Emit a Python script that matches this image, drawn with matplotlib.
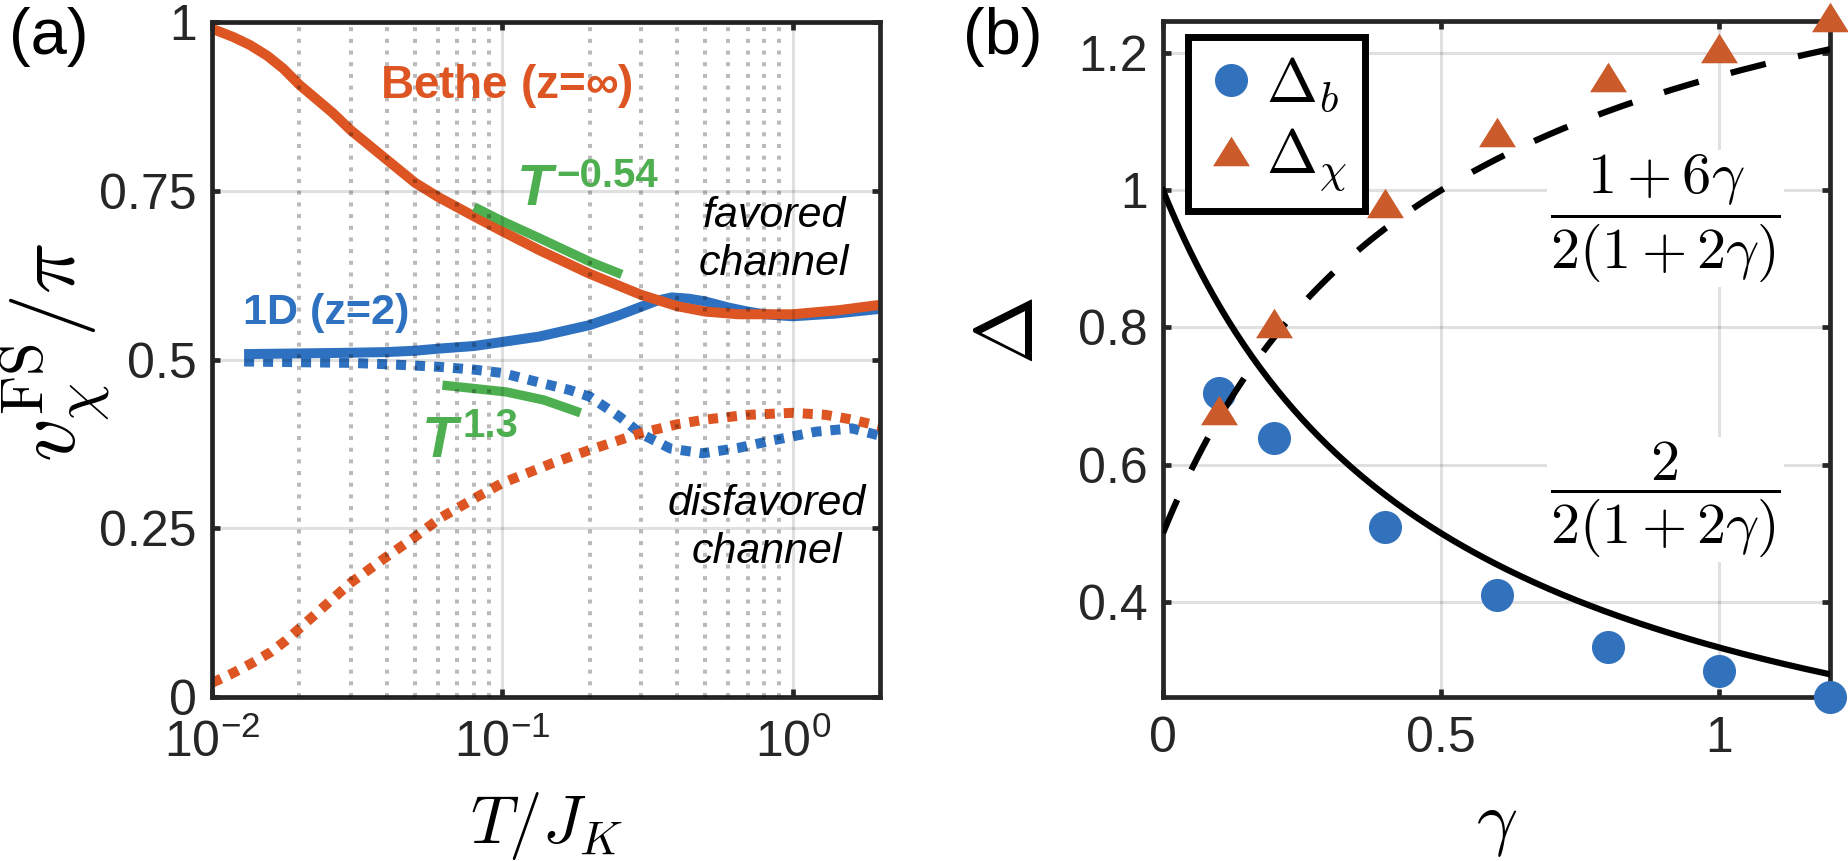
import numpy as np
import matplotlib
matplotlib.use('Agg')
import matplotlib.pyplot as plt
from matplotlib.ticker import FixedLocator, NullLocator

plt.rcParams['font.family'] = ['Liberation Sans', 'DejaVu Sans']
plt.rcParams['mathtext.fontset'] = 'cm'

# ---------------- Panel (a) data ----------------
T_bethe_fav = [0.01, 0.0118, 0.0135, 0.0155, 0.0176, 0.02, 0.0261, 0.03, 0.04, 0.05,
               0.06, 0.08, 0.1, 0.134, 0.2, 0.3, 0.4, 0.5, 0.65, 1.0, 1.44, 2.0]
v_bethe_fav = [0.99, 0.978, 0.966, 0.95, 0.931, 0.907, 0.865, 0.84, 0.796, 0.762,
               0.741, 0.712, 0.69, 0.662, 0.627, 0.596, 0.579, 0.571, 0.567, 0.567, 0.573, 0.581]

T_1d_fav = [0.0129, 0.02, 0.03, 0.04, 0.05, 0.06, 0.08, 0.1, 0.134, 0.2, 0.25, 0.3,
            0.34, 0.384, 0.44, 0.5, 0.6, 0.7, 0.8, 1.0, 1.4, 2.0]
v_1d_fav = [0.508, 0.509, 0.51, 0.511, 0.513, 0.516, 0.52, 0.526, 0.534, 0.551, 0.565, 0.578,
            0.587, 0.592, 0.59, 0.586, 0.577, 0.571, 0.567, 0.564, 0.568, 0.575]

T_1d_dis = [0.0129, 0.02, 0.03, 0.04, 0.05, 0.061, 0.08, 0.1, 0.134, 0.17, 0.2, 0.254,
            0.3, 0.38, 0.49, 0.65, 0.85, 1.2, 1.6, 2.0]
v_1d_dis = [0.497, 0.496, 0.495, 0.493, 0.491, 0.489, 0.485, 0.48, 0.466, 0.455, 0.445, 0.415,
            0.39, 0.368, 0.361, 0.369, 0.38, 0.393, 0.398, 0.387]

T_bethe_dis = [0.01, 0.0115, 0.0137, 0.016, 0.018, 0.0229, 0.03, 0.04, 0.05, 0.061, 0.08,
               0.1, 0.15, 0.2, 0.3, 0.4, 0.5, 0.7, 1.0, 1.3, 1.6, 2.0]
v_bethe_dis = [0.021, 0.033, 0.05, 0.067, 0.084, 0.124, 0.169, 0.208, 0.237, 0.265, 0.294,
               0.317, 0.347, 0.366, 0.391, 0.404, 0.411, 0.418, 0.421, 0.418, 0.411, 0.401]

T_fit_neg = [0.08, 0.1, 0.134, 0.2, 0.258]
v_fit_neg = [0.726, 0.705, 0.68, 0.645, 0.626]
T_fit_pos = [0.0622, 0.103, 0.139, 0.186]
v_fit_pos = [0.462, 0.452, 0.44, 0.421]

a_xticks = [0.01, 0.1, 1.0]
a_xticklabels = [r'$\mathregular{10^{-2}}$', r'$\mathregular{10^{-1}}$', r'$\mathregular{10^{0}}$']
a_yticks = [0, 0.25, 0.5, 0.75, 1]
a_yticklabels = ['0', '0.25', '0.5', '0.75', '1']
a_minor = [0.02, 0.03, 0.04, 0.05, 0.06, 0.07, 0.08, 0.09,
           0.2, 0.3, 0.4, 0.5, 0.6, 0.7, 0.8, 0.9]

# ---------------- Panel (b) data ----------------
gamma_pts = [0.1, 0.2, 0.4, 0.6, 0.8, 1.0, 1.2]
delta_b = [0.705, 0.639, 0.509, 0.41, 0.334, 0.299, 0.261]
delta_chi = [0.679, 0.807, 0.982, 1.085, 1.165, 1.207, 1.253]
gamma_curve = np.linspace(0, 1.2, 241)
b_xticks = [0, 0.5, 1]
b_xticklabels = ['0', '0.5', '1']
b_yticks = [0.4, 0.6, 0.8, 1.0, 1.2]
b_yticklabels = ['0.4', '0.6', '0.8', '1', '1.2']

# ---------------- Styles ----------------
ORANGE = '#DD5522'
BLUE = '#2E71C0'
GREEN = '#4DAF4F'
MBLUE = '#3271BC'
MORANGE = '#CB5B2B'
AXC = '#262626'

W, H = 1849, 861
fig = plt.figure(figsize=(W / 100, H / 100), dpi=100)
axA = fig.add_axes([212 / W, 1 - 697 / H, (880 - 212) / W, (697 - 22) / H])
axB = fig.add_axes([1163 / W, 1 - 697 / H, (1830 - 1163) / W, (697 - 21) / H])


def style_axes(ax, xpad):
    for s in ax.spines.values():
        s.set_linewidth(3.4)
        s.set_color(AXC)
    ax.tick_params(which='major', direction='in', top=True, right=True, length=6,
                   width=3.4, color=AXC, labelsize=36, labelcolor=AXC)
    ax.tick_params(axis='y', pad=11)
    ax.tick_params(axis='x', pad=xpad)
    ax.tick_params(which='minor', length=0)


# ---------------- Panel (a) ----------------
lw = 7.2
axA.plot(T_bethe_fav, v_bethe_fav, color=ORANGE, lw=lw, solid_capstyle='butt', zorder=2.1)
axA.plot(T_1d_fav, v_1d_fav, color=BLUE, lw=lw, solid_capstyle='butt', zorder=2.0)
axA.plot(T_1d_dis, v_1d_dis, color=BLUE, lw=lw, ls=(0, (1.0, 0.9)), zorder=2.0)
axA.plot(T_bethe_dis, v_bethe_dis, color=ORANGE, lw=lw, ls=(0, (1.0, 0.9)), zorder=2.1)
axA.plot(T_fit_neg, v_fit_neg, color=GREEN, lw=6.7, solid_capstyle='butt', zorder=2.2)
axA.plot(T_fit_pos, v_fit_pos, color=GREEN, lw=6.7, solid_capstyle='butt', zorder=2.2)

axA.set_xscale('log')
axA.set_xlim(0.01, 2)
axA.set_ylim(0, 1)
axA.xaxis.set_major_locator(FixedLocator(a_xticks))
axA.set_xticklabels(a_xticklabels)
axA.xaxis.set_minor_locator(FixedLocator(a_minor))
axA.set_yticks(a_yticks)
axA.set_yticklabels(a_yticklabels)
axA.yaxis.set_minor_locator(NullLocator())
style_axes(axA, 16)
axA.set_axisbelow(False)
axA.grid(True, which='major', color='k', alpha=0.12, lw=2.2)
axA.grid(True, which='minor', axis='x', color='k', alpha=0.27, lw=2.9, ls=(0, (1, 1.9)))

axA.text(0.0378, 0.905, r'Bethe (z=$\mathregular{\infty}$)', color=ORANGE, fontsize=33,
         fontweight='bold', ha='left', va='center')
axA.text(0.0128, 0.569, '1D (z=2)', color=BLUE, fontsize=31, fontweight='bold',
         ha='left', va='center')
axA.text(0.112, 0.729, 'T', color=GREEN, fontsize=42, fontweight='bold', style='italic',
         ha='left', va='baseline')
axA.text(0.1535, 0.7556, '\u22120.54', color=GREEN, fontsize=29, fontweight='bold',
         ha='left', va='baseline')
axA.text(0.053, 0.356, 'T', color=GREEN, fontsize=42, fontweight='bold', style='italic',
         ha='left', va='baseline')
axA.text(0.0729, 0.385, '1.3', color=GREEN, fontsize=29, fontweight='bold',
         ha='left', va='baseline')
axA.text(0.861, 0.677, 'favored\nchannel', fontsize=31, style='italic', color='k',
         ha='center', va='center', linespacing=1.25)
axA.text(0.815, 0.250, 'disfavored\nchannel', fontsize=31, style='italic', color='k',
         ha='center', va='center', linespacing=1.25)

axA.set_xlabel(r'$T/J_K$', fontsize=48)
axA.xaxis.set_label_coords(0.5, -0.138)
axA.set_ylabel(r'$v_\chi^{\rm FS}/\pi$', fontsize=62)
axA.yaxis.set_label_coords(-0.148, 0.51)

# ---------------- Panel (b) ----------------
tri = [(-1, -0.8), (1, -0.8), (0, 0.8), (-1, -0.8)]
axB.plot(gamma_pts, delta_b, ls='none', marker='o', ms=23.8, mfc=MBLUE, mec='none',
         clip_on=False, zorder=3, label=r'$\Delta_b$')
axB.plot(gamma_curve, 1.0 / (1 + 2 * gamma_curve), color='k', lw=4.5, zorder=4)
axB.plot(gamma_curve, (1 + 6 * gamma_curve) / (2 * (1 + 2 * gamma_curve)), color='k', lw=4.5,
         ls=(0, (5.8, 5.3)), zorder=4)
axB.plot(gamma_pts, delta_chi, ls='none', marker=tri, ms=26.6, mfc=MORANGE, mec='none',
         clip_on=False, zorder=5, label=r'$\Delta_\chi$')

axB.set_xlim(0, 1.2)
axB.set_ylim(0.261, 1.247)
axB.set_xticks(b_xticks)
axB.set_xticklabels(b_xticklabels)
axB.set_yticks(b_yticks)
axB.set_yticklabels(b_yticklabels)
style_axes(axB, 14)
axB.set_axisbelow(True)
axB.grid(True, which='major', color='k', alpha=0.12, lw=2.2)

axB.text(0.9045, 0.959, r'$\dfrac{1+6\gamma}{2(1+2\gamma)}$', fontsize=42, ha='center',
         va='center', zorder=3.5, bbox=dict(fc='white', ec='none', pad=2))
axB.text(0.9045, 0.549, r'$\dfrac{2}{2(1+2\gamma)}$', fontsize=42, ha='center',
         va='center', zorder=3.5, bbox=dict(fc='white', ec='none', pad=2))

leg = axB.legend(loc='upper left', bbox_to_anchor=(0.0375, 0.976), borderaxespad=0,
                 fontsize=44, handlelength=0.8, handletextpad=0.17, borderpad=0.3,
                 labelspacing=0.2, fancybox=False, framealpha=1, edgecolor='k', numpoints=1)
leg.get_frame().set_linewidth(5)

axB.set_xlabel(r'$\gamma$', fontsize=52)
axB.xaxis.set_label_coords(0.5, -0.14)
axB.set_ylabel(r'$\Delta$', fontsize=60, rotation=90)
axB.yaxis.set_label_coords(-0.169, 0.541)

fig.text(9 / W, 1 - 54 / H, '(a)', fontsize=47, ha='left', va='baseline', color='k')
fig.text(963 / W, 1 - 54 / H, '(b)', fontsize=47, ha='left', va='baseline', color='k')

fig.savefig('out.png', dpi=100)
